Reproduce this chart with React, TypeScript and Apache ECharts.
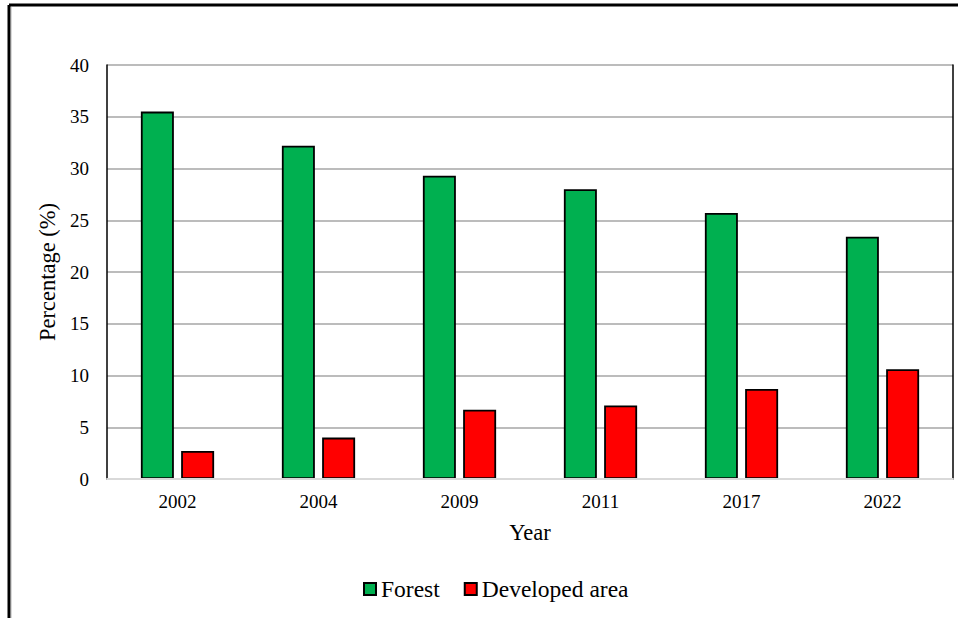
import React, { useEffect, useRef } from "react";
import * as echarts from "echarts";

const years = ["2002", "2004", "2009", "2011", "2017", "2022"];
const forest = [35.5, 32.2, 29.3, 28.0, 25.7, 23.4];
const developed = [2.7, 4.0, 6.7, 7.1, 8.7, 10.6];
const seriesNames = ["Forest", "Developed area"];

const FONT = "'Liberation Serif', 'Times New Roman', serif";

export default function App() {
  const ref = useRef<HTMLDivElement>(null);
  useEffect(() => {
    if (!ref.current) return;
    const chart = echarts.init(ref.current, null, { renderer: "svg" });
    chart.setOption({
      animation: false,
      backgroundColor: "#ffffff",
      textStyle: { fontFamily: FONT, color: "#000" },
      grid: { left: 107, right: 15, top: 65, bottom: 139, containLabel: false },
      legend: {
        left: 358,
        top: 572,
        itemWidth: 12,
        itemHeight: 12,
        itemGap: 24,
        icon: "rect",
        textStyle: { fontFamily: FONT, fontSize: 23.5, color: "#000", padding: [0, 0, 0, 0] },
        data: seriesNames,
      },
      xAxis: [
        {
          type: "category",
          data: years,
          name: "Year",
          nameLocation: "middle",
          nameGap: 42,
          nameTextStyle: { fontFamily: FONT, fontSize: 22.5, color: "#000" },
          axisLine: { show: true, lineStyle: { color: "#d9d9d9", width: 2 } },
          axisTick: { show: false },
          axisLabel: { fontFamily: FONT, fontSize: 19, color: "#000", margin: 13 },
          z: 5,
        },
        {
          type: "category",
          data: years,
          position: "top",
          axisLine: { show: true, lineStyle: { color: "#000", width: 1.5 } },
          axisTick: { show: false },
          axisLabel: { show: false },
        },
      ],
      yAxis: [
        {
          type: "value",
          min: 0,
          max: 40,
          interval: 5,
          name: "Percentage (%)",
          nameLocation: "middle",
          nameGap: 46,
          nameTextStyle: { fontFamily: FONT, fontSize: 22.5, color: "#000" },
          axisLine: { show: true, lineStyle: { color: "#000", width: 1.5 } },
          axisTick: { show: false },
          axisLabel: { fontFamily: FONT, fontSize: 19, color: "#000", margin: 18 },
          splitLine: { show: true, lineStyle: { color: "#a6a6a6", width: 1.5 } },
        },
        {
          type: "value",
          min: 0,
          max: 40,
          interval: 5,
          position: "right",
          axisLine: { show: true, lineStyle: { color: "#000", width: 1.5 } },
          axisTick: { show: false },
          axisLabel: { show: false },
          splitLine: { show: false },
        },
      ],
      series: [
        {
          name: seriesNames[0],
          type: "bar",
          data: forest,
          barWidth: 33,
          barGap: "22%",
          itemStyle: { color: "#00b050", borderColor: "#000", borderWidth: 1.8 },
        },
        {
          name: seriesNames[1],
          type: "bar",
          data: developed,
          barWidth: 33,
          itemStyle: { color: "#ff0000", borderColor: "#000", borderWidth: 1.8 },
        },
      ],
      graphic: [
        { type: "line", shape: { x1: 9, y1: 5, x2: 958, y2: 5 }, style: { stroke: "#000", lineWidth: 3 } },
        { type: "line", shape: { x1: 9, y1: 5, x2: 9, y2: 618 }, style: { stroke: "#000", lineWidth: 3 } },
        { type: "line", shape: { x1: 11.5, y1: 7, x2: 11.5, y2: 618 }, style: { stroke: "#d9d9d9", lineWidth: 1 } },
      ],
    });
    return () => chart.dispose();
  }, []);
  return (
    <div
      ref={ref}
      style={{ position: "fixed", left: 0, top: 0, width: 968, height: 618 }}
    />
  );
}
